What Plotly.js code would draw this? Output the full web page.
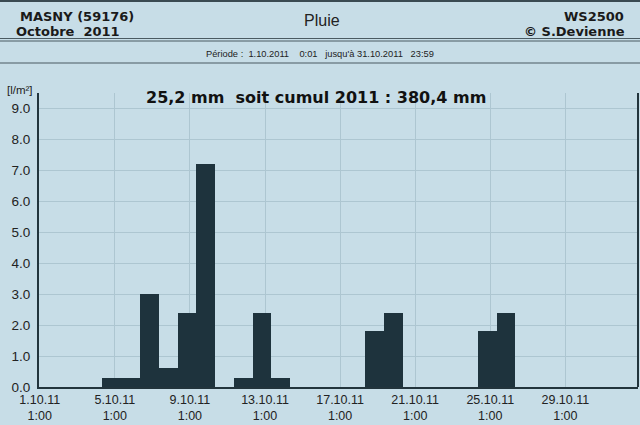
<!DOCTYPE html>
<html>
<head>
<meta charset="utf-8">
<script src="https://cdn.plot.ly/plotly-3.0.1.min.js"></script>
<style>
html,body{margin:0;padding:0;background:#c7dde7;}
#chart{width:640px;height:425px;}
</style>
</head>
<body>
<div id="chart"></div>
<script>
// ---- data ----
const rainDays = [5, 6, 7, 8, 9, 10, 12, 13, 14, 19, 20, 25, 26];
const rainMm   = [0.3, 0.3, 3.0, 0.6, 2.4, 7.2, 0.3, 2.4, 0.3, 1.8, 2.4, 1.8, 2.4];
const tickDays = [1, 5, 9, 13, 17, 21, 25, 29];
const tickDates = ["1.10.11", "5.10.11", "9.10.11", "13.10.11", "17.10.11", "21.10.11", "25.10.11", "29.10.11"];
const tickHour = "1:00";
const yTicks = [0, 1, 2, 3, 4, 5, 6, 7, 8, 9];

// ---- layout geometry (pixels) ----
const W = 640, H = 425;
const L = 39, R = 638, T = 93, B = 387;
const xp = px => (px - L) / (R - L);
const yp = py => (B - py) / (B - T);

const bg = '#c7dde7';
const dark = '#1e333d';
const txt = '#1a1a1a';

const trace = {
  type: 'bar',
  x: rainDays,
  y: rainMm,
  width: 1,
  offset: -0.66,
  marker: {color: dark, line: {width: 0}},
  hoverinfo: 'x+y'
};

const hdrFont = {family: 'DejaVu Sans', size: 13, color: txt};

const layout = {
  width: W, height: H,
  margin: {l: L, r: W - R, t: T, b: H - B, pad: 0},
  paper_bgcolor: bg,
  plot_bgcolor: bg,
  showlegend: false,
  bargap: 0,
  xaxis: {
    range: [0.96, 32.87],
    tickmode: 'array',
    tickvals: tickDays,
    ticktext: tickDates.map(d => d + '<br>' + tickHour),
    showgrid: true,
    gridcolor: '#adc6d1',
    gridwidth: 1,
    zeroline: false,
    showline: true,
    linecolor: '#22343c',
    linewidth: 2,
    ticks: '',
    tickfont: {family: 'Liberation Sans', size: 12.5, color: '#222'},
    fixedrange: true
  },
  yaxis: {
    range: [0, 9.5],
    tickmode: 'array',
    tickvals: yTicks,
    tickformat: '.1f',
    showgrid: true,
    gridcolor: '#adc6d1',
    gridwidth: 1,
    zeroline: false,
    showline: true,
    linecolor: '#22343c',
    linewidth: 2,
    ticks: '',
    ticklabelstandoff: 4,
    tickfont: {family: 'Liberation Sans', size: 13.5, color: '#222'},
    fixedrange: true
  },
  shapes: [
    // right frame line
    {type: 'line', xref: 'paper', yref: 'paper', x0: 1, x1: 1, y0: 0, y1: 1, line: {color: '#22343c', width: 2}},
    // top border
    {type: 'line', xref: 'paper', yref: 'paper', x0: xp(0), x1: xp(W), y0: yp(1), y1: yp(1), line: {color: '#3a4a52', width: 2}},
    // header separator (double)
    {type: 'line', xref: 'paper', yref: 'paper', x0: xp(0), x1: xp(W), y0: yp(38.5), y1: yp(38.5), line: {color: '#4a5a62', width: 1}},
    {type: 'line', xref: 'paper', yref: 'paper', x0: xp(0), x1: xp(W), y0: yp(41), y1: yp(41), line: {color: '#4a5a62', width: 1}},
    // period separator
    {type: 'line', xref: 'paper', yref: 'paper', x0: xp(0), x1: xp(W), y0: yp(63), y1: yp(63), line: {color: '#4a5a62', width: 1.2}}
  ],
  annotations: [
    {xref: 'paper', yref: 'paper', x: xp(18), y: yp(16), xanchor: 'left', yanchor: 'middle', showarrow: false,
     text: '<b>MASNY (59176)</b>', font: hdrFont},
    {xref: 'paper', yref: 'paper', x: xp(14), y: yp(31), xanchor: 'left', yanchor: 'middle', showarrow: false,
     text: '<b>Octobre\u00a0 2011</b>', font: hdrFont},
    {xref: 'paper', yref: 'paper', x: xp(322), y: yp(20), xanchor: 'center', yanchor: 'middle', showarrow: false,
     text: 'Pluie', font: {family: 'Liberation Sans', size: 16, color: '#222'}},
    {xref: 'paper', yref: 'paper', x: xp(626), y: yp(16), xanchor: 'right', yanchor: 'middle', showarrow: false,
     text: '<b>WS2500</b>', font: hdrFont},
    {xref: 'paper', yref: 'paper', x: xp(627), y: yp(31), xanchor: 'right', yanchor: 'middle', showarrow: false,
     text: '<b>© S.Devienne</b>', font: hdrFont},
    {xref: 'paper', yref: 'paper', x: xp(320), y: yp(54), xanchor: 'center', yanchor: 'middle', showarrow: false,
     text: 'Période :\u00a0 1.10.2011\u00a0\u00a0\u00a0 0:01\u00a0\u00a0 jusqu\'à 31.10.2011\u00a0\u00a0 23:59',
     font: {family: 'Liberation Sans', size: 9.3, color: '#222'}},
    {xref: 'paper', yref: 'paper', x: xp(20), y: yp(90), xanchor: 'center', yanchor: 'middle', showarrow: false,
     text: '[l/m²]', font: {family: 'Liberation Sans', size: 11.5, color: '#222'}},
    {xref: 'paper', yref: 'paper', x: xp(316), y: yp(97), xanchor: 'center', yanchor: 'middle', showarrow: false,
     text: '<b>25,2 mm\u00a0 soit cumul 2011 : 380,4 mm</b>', font: {family: 'DejaVu Sans', size: 16, color: '#111'}}
  ]
};

Plotly.newPlot('chart', [trace], layout, {staticPlot: true, displayModeBar: false});
</script>
</body>
</html>
